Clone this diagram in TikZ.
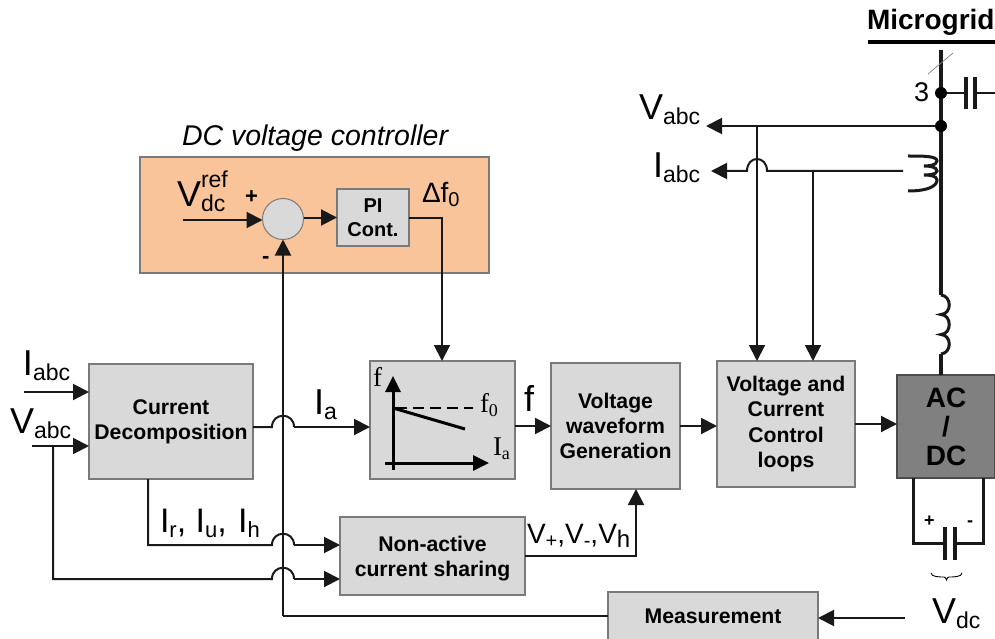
\documentclass[tikz,border=0pt]{standalone}
\usepackage{fontspec}
\setmainfont{Liberation Sans}
\newfontfamily\serifface{Liberation Serif}
\usetikzlibrary{arrows.meta,calc}
\newcommand\fs[1]{\fontsize{#1}{#1}\selectfont}
\newcommand\lowsub[2]{\raisebox{-5pt}{\fs{#1}#2}}
\definecolor{boxgray}{HTML}{D9D9D9}
\definecolor{edgegray}{HTML}{7A7A7A}
\definecolor{orangefill}{HTML}{F9C499}
\definecolor{acgray}{HTML}{808080}
\tikzset{
  blockbox/.style={draw=edgegray,line width=1.3pt,fill=boxgray,inner sep=0pt,outer sep=0pt,align=center,font=\fs{21.2}\bfseries},
  label/.style={inner sep=0pt,outer sep=0pt,anchor=base west,text=black},
  wire/.style={line width=2pt,draw=black!90},
  arrowed/.style={wire,-{Triangle[length=16pt,width=16pt]}},
  bus/.style={line width=3.6pt,draw=black!90},
  dotnode/.style={circle,fill=black,inner sep=0pt,minimum size=12pt,outer sep=0pt},
}
\begin{document}
\begin{tikzpicture}[x=1pt,y=-1pt]
\useasboundingbox (0,0) rectangle (995,639);
\clip (0,0) rectangle (995,639);
% boxes
\node[draw=edgegray,line width=1.3pt,fill=orangefill,minimum width=349pt,minimum height=116pt,inner sep=0pt,outer sep=0pt] (dcbox) at (314.5,215) {};
\node[circle,draw=edgegray,line width=1pt,fill=boxgray,minimum size=41pt,inner sep=0pt,outer sep=0pt] (sum) at (283,219) {};
\node[blockbox,font=\fs{20}\bfseries,minimum width=72pt,minimum height=57pt] (pi) at (373,217.5) {PI\\[4pt]Cont.};
\node[blockbox,minimum width=164pt,minimum height=115pt] (cd) at (171,421.5) {Current\\[4pt]Decomposition};
\node[blockbox,minimum width=145pt,minimum height=118pt] (droop) at (442.5,420) {};
\node[blockbox,minimum width=129pt,minimum height=126pt] (vg) at (615.5,426) {Voltage\\[4pt]waveform\\[4pt]Generation};
\node[blockbox,minimum width=138pt,minimum height=126pt] (vc) at (786,424) {Voltage and\\[4pt]Current\\[4pt]Control\\[4pt]loops};
\node[blockbox,draw=black!70,fill=acgray,font=\fs{28}\bfseries,minimum width=98pt,minimum height=103pt] (ac) at (946,426.5) {AC\\[1pt]/\\[1pt]DC};
\node[blockbox,minimum width=185pt,minimum height=78pt] (nc) at (432.5,556) {\rule{0pt}{20pt}Non-active\\[4pt]current sharing};
\node[blockbox,minimum width=210pt,minimum height=48pt] (ms) at (713,616) {Measurement};
% free ends and junctions
\coordinate (vrefin) at (183,220);
\coordinate (iin) at (24,392);
\coordinate (vin) at (32,446);
\coordinate (vtap) at (53,446);
\coordinate (busTop) at (941,50);
\coordinate (capNode) at (941,93);
\coordinate (vNode) at (941,126);
\coordinate (indTop) at (941,295);
\coordinate (indBot) at (941,354);
\coordinate (vOut) at (706,126);
\coordinate (iOut) at (711,171);
\coordinate (vTap) at (757,126);
\coordinate (iTap) at (813,171);
\coordinate (vdcEnd) at (905,618);
\coordinate (fbCorner) at (283,616);
% bus
\draw[bus] (busTop) -- (indTop);
\draw[bus] (indBot) -- (ac.north -| indBot);
\draw[line width=3pt,draw=black!90] (indTop) .. controls (952,296) and (952,314) .. (941,314.5)
  .. controls (952,315) and (952,334) .. (941,334.5)
  .. controls (952,335) and (952,353) .. (indBot);
\draw[line width=3.4pt] (868,42) -- (995,42);
\draw[line width=.7pt,draw=black!50] (928,74) -- (953,53);
\node[dotnode] (d1) at (capNode) {};
\node[dotnode] (d2) at (vNode) {};
% top capacitor
\draw[line width=2.8pt,draw=black!90] (d1) -- (966,93) (975,93) -- (995,93);
\draw[line width=3.4pt,draw=black!90] (966,77) -- (966,109) (975,77) -- (975,109);
% current sensor
\draw[line width=3pt,draw=black!90] (908,156) .. controls (924,156) and (937,156) .. (937,161)
  .. controls (937,166) and (926,166) .. (924,166)
  .. controls (930,166) and (937,167) .. (937,171)
  .. controls (937,175) and (926,175) .. (924,175)
  .. controls (930,175) and (937,176) .. (937,180)
  .. controls (937,186) and (928,191) .. (908,191);
% top wires
\draw[arrowed] (d2) -- (vOut);
\draw[arrowed] (vTap) -- (vTap |- vc.north);
\draw[arrowed] (iTap) -- (iTap |- vc.north);
\draw[arrowed] (903,171) -- (767,171) .. controls (767,155) and (747,155) .. (747,171) -- (iOut);
% controller
\draw[arrowed] (vrefin) -- (sum.west |- vrefin);
\draw[arrowed] (sum.east |- pi.west) -- (pi.west);
\draw[arrowed] (pi.east) -- (442,217.5) -- (442,361);
% feedback
\draw[wire] (ms.west |- fbCorner) -- (fbCorner);
\draw[arrowed] (fbCorner) -- (sum.south);
\draw[arrowed] (vdcEnd) -- (ms.east |- vdcEnd);
% left side
\draw[arrowed] (iin) -- (cd.west |- iin);
\draw[arrowed] (vin) -- (cd.west |- vin);
\draw[wire] (vtap) -- (53,579) -- (272,579) .. controls (272,564) and (294,564) .. (294,579);
\draw[arrowed] (294,579) -- (nc.west |- 294,579);
\draw[wire] (148,479) -- (148,545) -- (272,545) .. controls (272,530) and (294,530) .. (294,545);
\draw[arrowed] (294,545) -- (nc.west |- 294,545);
\draw[wire] (253,427) -- (272,427) .. controls (272,412) and (294,412) .. (294,427);
\draw[arrowed] (294,427) -- (droop.west |- 294,427);
% chain
\draw[arrowed] (droop.east |- 0,426) -- (vg.west |- 0,426);
\draw[arrowed] (vg.east |- 0,426) -- (vc.west |- 0,426);
\draw[arrowed] (vc.east |- 0,424) -- (ac.west |- 0,424);
\draw[arrowed] (nc.east) -- (636,556) -- (636,489);
% DC capacitor
\draw[line width=3pt,draw=black!90] (913,478) -- (913,543) -- (945,543) (955,543) -- (983,543) -- (983,478);
\draw[line width=3.4pt,draw=black!90] (945,527) -- (945,560) (955,527) -- (955,560);
\draw[line width=.9pt] (931,573) .. controls (931,577) and (940,577) .. (944,577) .. controls (945,577) and (946,578) .. (946.5,580) .. controls (947,578) and (948,577) .. (949,577) .. controls (953,577) and (962,577) .. (962,573);
% droop plot
\draw[line width=3pt,-{Triangle[length=16pt,width=15pt]}] (393,470) -- (393,376);
\draw[line width=3pt,-{Triangle[length=16pt,width=15pt]}] (385,463) -- (489,463);
\draw[line width=3pt] (393,408) -- (465,429);
\draw[line width=1.6pt,dash pattern=on 11pt off 6pt] (396,408) -- (473,408);
% labels
\node[label,font=\fs{28}\bfseries] (lmg) at (867,30) {Microgrid};
\node[label,font=\fs{27}] (l3) at (914,102) {3};
\node[label,font=\fs{36}] (lv1) at (639,120) {V\lowsub{23}{abc}};
\node[label,font=\fs{36}] (li1) at (653,178) {I\lowsub{23}{abc}};
\node[label,font=\fs{36}] (li2) at (23,375) {I\lowsub{23}{abc}};
\node[label,font=\fs{36}] (lv2) at (10,433) {V\lowsub{23}{abc}};
\node[label,font=\fs{36}] (lia) at (314,414) {I\lowsub{23}{a}};
\node[label,font=\fs{36}] (lf) at (524,411) {f};
\node[label,font=\fs{34}] (lir) at (160,532) {I\lowsub{22}{r}, I\lowsub{22}{u},\hspace{2pt} I\lowsub{22}{h}};
\node[label,font=\fs{28}] (lvp) at (527,543) {V\raisebox{-4pt}{\fs{20}+},V\raisebox{-4pt}{\fs{20}-},V\raisebox{-4pt}{\fs{24}h}};
\node[label,font=\fs{36}] (lvdc) at (932,623) {V\lowsub{23}{dc}};
\node[label,font=\fs{36}] (lref) at (177,207) {V\rlap{\raisebox{-5pt}{\fs{23}dc}}\raisebox{20pt}{\fs{23}ref}};
\node[label,font=\fs{28}] (ldf) at (422,202) {Δf\raisebox{-4pt}{\fs{20}0}};
\node[label,font=\fs{28.5}\itshape] (ldc) at (182,146) {DC voltage controller};
\node[label,font=\fs{22}\bfseries] (lp) at (245,204) {+};
\node[label,font=\fs{22}\bfseries] (lm) at (262,263) {-};
\node[label,font=\fs{18}\bfseries] (lcp) at (924,526) {+};
\node[label,font=\fs{18}\bfseries] (lcm) at (967,526) {-};
\node[label,font=\serifface\fs{27}] (lff) at (373,386) {f};
\node[label,font=\serifface\fs{27}] (lf0) at (480,412) {f\raisebox{-4pt}{\fs{18}0}};
\node[label,font=\serifface\fs{27}] (lia2) at (493,455) {I\raisebox{-4pt}{\fs{18}a}};
\end{tikzpicture}
\end{document}
